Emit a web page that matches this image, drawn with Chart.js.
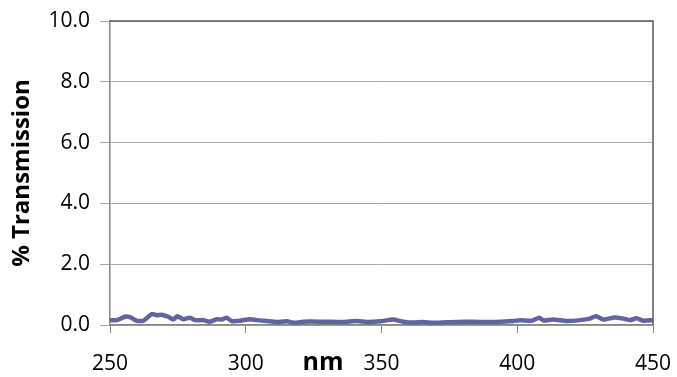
<!DOCTYPE html>
<html>
<head>
    <title>% Transmission</title>
    <script src="https://cdn.jsdelivr.net/npm/chart.js"></script>
    <style>
        body { margin: 0; background: #fff; }
        .chart-box { width: 677px; height: 377px; }
    </style>
</head>
<body>
    <div class="chart-box"><canvas id="transChart"></canvas></div>
    <script>
        // ===== DATA =====
        const wavelengths = [250, 252.5, 255.5, 257.4, 259.8, 262.3, 265.4, 267.2, 269, 271.5,
            273.3, 274.8, 277, 279.5, 281.3, 284.4, 286.8, 289.3, 291.1, 293, 294.8, 297.9,
            301.6, 304, 307.7, 311.4, 315.1, 318.2, 321.2, 328.6, 336, 340.9, 344.6, 349.5,
            354.2, 358, 361.7, 365.4, 369, 374, 380.1, 386.3, 392.4, 398.6, 401, 405.3, 408.1,
            409.6, 413.3, 418.2, 423.1, 426.8, 429, 431.7, 436, 439.1, 441.5, 444, 446.5, 450];
        const transmission = [0.16, 0.16, 0.27, 0.26, 0.14, 0.14, 0.36, 0.32, 0.34, 0.27,
            0.18, 0.29, 0.19, 0.24, 0.16, 0.16, 0.11, 0.19, 0.18, 0.24, 0.13, 0.14,
            0.19, 0.16, 0.13, 0.10, 0.12, 0.07, 0.11, 0.11, 0.10, 0.13, 0.10, 0.12,
            0.18, 0.11, 0.08, 0.10, 0.07, 0.09, 0.11, 0.10, 0.10, 0.13, 0.16, 0.14, 0.24,
            0.15, 0.18, 0.13, 0.16, 0.21, 0.29, 0.18, 0.25, 0.21, 0.16, 0.22, 0.14, 0.16];
        const xTicks = [250, 300, 350, 400, 450];
        const yTicks = [0, 2, 4, 6, 8, 10];

        const points = wavelengths.map((w, i) => ({ x: w, y: transmission[i] }));

        // ===== PLOT FRAME + "nm" LABEL =====
        const framePlugin = {
            id: 'frame',
            afterDraw(chart) {
                const { ctx, chartArea: a } = chart;
                ctx.save();
                ctx.strokeStyle = '#5a5a5a';
                ctx.lineWidth = 1.5;
                ctx.beginPath();
                ctx.moveTo(a.left, a.top);
                ctx.lineTo(a.right, a.top);
                ctx.lineTo(a.right, a.bottom);
                ctx.stroke();
                ctx.fillStyle = '#000';
                ctx.font = 'bold 25px "Open Sans", sans-serif';
                ctx.textAlign = 'center';
                ctx.textBaseline = 'alphabetic';
                ctx.fillText('nm', 323, 370);
                ctx.restore();
            }
        };

        new Chart(document.getElementById('transChart'), {
            type: 'line',
            data: {
                datasets: [{
                    label: '% Transmission',
                    data: points,
                    borderColor: '#63649f',
                    borderWidth: 4.5,
                    pointRadius: 0,
                    tension: 0.2
                }]
            },
            options: {
                responsive: true,
                maintainAspectRatio: false,
                animation: false,
                layout: { padding: { left: 0, right: 24, top: 21, bottom: 0 } },
                plugins: {
                    legend: { display: false },
                    tooltip: { enabled: false }
                },
                scales: {
                    x: {
                        type: 'linear',
                        min: 250,
                        max: 450,
                        afterBuildTicks: s => { s.ticks = xTicks.map(v => ({ value: v })); },
                        afterFit: s => { s.height = 52; s.paddingLeft = 0; s.paddingRight = 0; },
                        ticks: {
                            color: '#000',
                            font: { family: 'Open Sans', size: 21 },
                            padding: 18,
                            maxRotation: 0
                        },
                        grid: { drawOnChartArea: false, tickLength: 8, color: '#868686' },
                        border: { color: '#868686', width: 1.5 }
                    },
                    y: {
                        min: 0,
                        max: 10,
                        afterBuildTicks: s => { s.ticks = yTicks.map(v => ({ value: v })); },
                        afterFit: s => { s.width = 110; s.paddingTop = 0; s.paddingBottom = 0; },
                        ticks: {
                            color: '#000',
                            font: { family: 'Open Sans', size: 21 },
                            padding: 10,
                            callback: v => v.toFixed(1)
                        },
                        grid: { color: '#a8a8a8', tickLength: 10 },
                        border: { color: '#868686', width: 1.5 },
                        title: {
                            display: true,
                            text: '% Transmission',
                            color: '#000',
                            font: { family: 'Open Sans', size: 24, weight: 'bold' },
                            padding: { top: 8, bottom: 0 }
                        }
                    }
                }
            },
            plugins: [framePlugin]
        });
    </script>
</body>
</html>
